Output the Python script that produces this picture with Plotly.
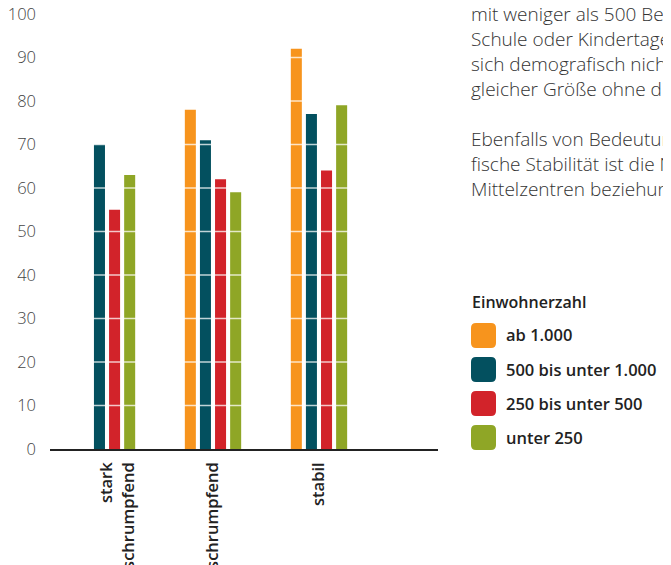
import plotly.graph_objects as go

# Entwicklung nach Einwohnerzahl (Anteil in %)
categories = ["stark schrumpfend", "schrumpfend", "stabil"]
tick_labels = ["&nbsp;<br>stark<br>schrumpfend", "schrumpfend", "stabil"]
series_names = ["ab 1.000", "500 bis unter 1.000", "250 bis unter 500", "unter 250"]
ab_1000 = [None, 78, 92]
von_500_bis_1000 = [70, 71, 77]
von_250_bis_500 = [55, 62, 64]
unter_250 = [63, 59, 79]
colors = ["#F7941D", "#03505F", "#D2232A", "#8FA626"]
y_ticks = [0, 10, 20, 30, 40, 50, 60, 70, 80, 90, 100]

text_lines = [
    "mit weniger als 500 Bewohnern keine",
    "Schule oder Kindertagesstätte gibt,",
    "sich demografisch nicht von Dörfern",
    "gleicher Größe ohne diese Einrichtungen.",
    "",
    "Ebenfalls von Bedeutung für die demogra-",
    "fische Stabilität ist die Nähe zu Ober- und",
    "Mittelzentren beziehungsweise Städten.",
]

FONT = "Open Sans"
W, H = 671, 565
OFF = 8  # page margin of the html body
L, R, T, B = 42, 241, 6, 124


def px_x(x):
    return (x - OFF - L) / (W - L - R)


def px_y(y):
    return (H - B - (y - OFF)) / (H - T - B)


def rounded_box(x0, y0, x1, y1, r):
    # pixel box -> paper path with rounded corners
    X, Y = px_x, px_y
    return (f"M {X(x0 + r)},{Y(y0)} L {X(x1 - r)},{Y(y0)} Q {X(x1)},{Y(y0)} {X(x1)},{Y(y0 + r)} "
            f"L {X(x1)},{Y(y1 - r)} Q {X(x1)},{Y(y1)} {X(x1 - r)},{Y(y1)} "
            f"L {X(x0 + r)},{Y(y1)} Q {X(x0)},{Y(y1)} {X(x0)},{Y(y1 - r)} "
            f"L {X(x0)},{Y(y0 + r)} Q {X(x0)},{Y(y0)} {X(x0 + r)},{Y(y0)} Z")


fig = go.Figure()
for name, vals, col in zip(series_names, [ab_1000, von_500_bis_1000, von_250_bis_500, unter_250], colors):
    fig.add_trace(go.Bar(x=categories, y=vals, name=name, marker_color=col,
                         marker_line_width=0, showlegend=False))

# white grid lines drawn over the bars
shapes = []
for v in y_ticks[1:]:
    shapes.append(dict(type="line", xref="paper", x0=0, x1=1, yref="y", y0=v, y1=v,
                       line=dict(color="rgba(255,255,255,0.75)", width=1.5), layer="above"))

# custom legend
annotations = [dict(text="Einwohnerzahl", xref="paper", yref="paper", x=px_x(470), y=px_y(302),
                    xanchor="left", yanchor="middle", showarrow=False,
                    font=dict(family=FONT, size=16, color="#222", weight=600))]
for i, (name, col) in enumerate(zip(series_names, colors)):
    top = 323 + i * 34
    shapes.append(dict(type="path", xref="paper", yref="paper",
                       path=rounded_box(471, top, 496, top + 25, 5),
                       fillcolor=col, line=dict(width=0)))
    annotations.append(dict(text=name, xref="paper", yref="paper", x=px_x(504), y=px_y(top + 12),
                            xanchor="left", yanchor="middle", showarrow=False,
                            font=dict(family=FONT, size=16.5, color="#222", weight=600)))

for i, line in enumerate(text_lines):
    if not line:
        continue
    annotations.append(dict(text=line, xref="paper", yref="paper", x=px_x(469), y=px_y(14 + i * 25),
                            xanchor="left", yanchor="middle", showarrow=False,
                            font=dict(family=FONT, size=19, color="#333", weight=300)))

fig.update_layout(
    width=W, height=H,
    margin=dict(l=L, r=R, t=T, b=B, autoexpand=False),
    plot_bgcolor="white", paper_bgcolor="white",
    barmode="group", bargap=0.43, bargroupgap=0.27,
    shapes=shapes, annotations=annotations,
    font=dict(family=FONT),
)
fig.update_xaxes(range=[-0.538, 3.123], showline=True, linecolor="#222", linewidth=1.5,
                 tickvals=categories, ticktext=tick_labels,
                 showgrid=False, tickangle=-90, ticks="", ticklabelstandoff=5, automargin=False,
                 tickfont=dict(family=FONT, size=16.5, color="#222", weight=600))
fig.update_yaxes(range=[0, 100], tickvals=y_ticks, showgrid=False, zeroline=False,
                 showline=False, ticks="", ticklabelstandoff=13, automargin=False,
                 ticklabeloverflow="allow",
                 tickfont=dict(family=FONT, size=16.5, color="#444", weight=300))

fig.write_html("out.html")
